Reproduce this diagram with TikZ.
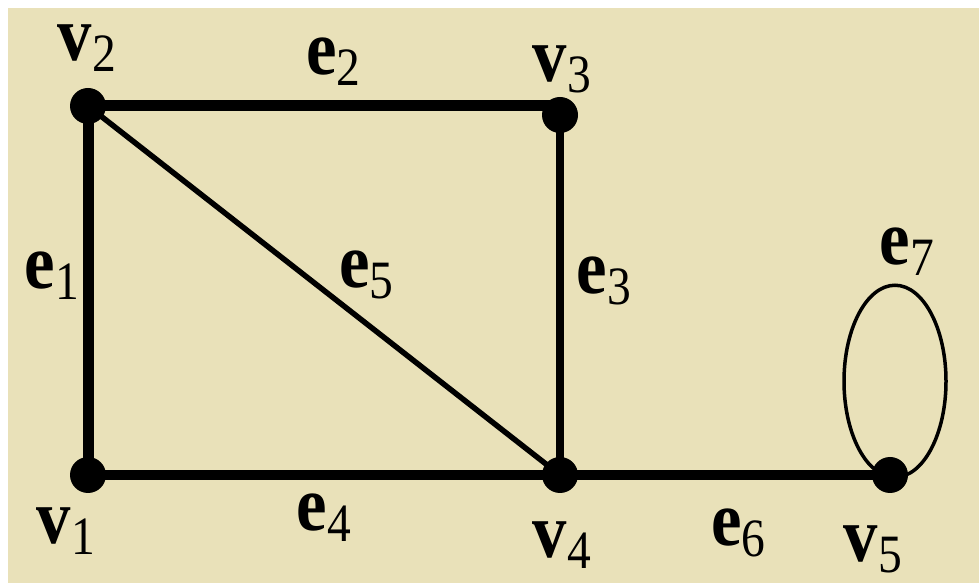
\documentclass[tikz,border=0pt]{standalone}
\usepackage{fontspec}
\setmainfont{Liberation Serif}
\usepackage{graphicx}
\usepackage{tikz}
\usetikzlibrary{positioning,calc,shapes.geometric}
\definecolor{bg}{HTML}{E9E1B9}
\newcommand{\Lb}[2]{\scalebox{.88}[1]{\textbf{#1}\raisebox{-11pt}{\fontsize{54}{60}\selectfont #2}}}
\tikzset{
  vtx/.style={circle, fill=black, inner sep=0pt, minimum size=36pt},
  lbl/.style={font=\fontsize{78}{94}\selectfont, inner sep=0pt},
}

\begin{document}
\begin{tikzpicture}[x=1pt,y=1pt]
  % backdrop
  \useasboundingbox (0,0) rectangle (979,583);
  \fill[white] (0,0) rectangle (979,583);
  \fill[bg] (8,0) rectangle (979,575);

  % vertices
  \node[vtx] (v1) at (88,108) {};
  \node[vtx] (v2) at (88,477) {};
  \node[vtx] (v3) at (560,468) {};
  \node[vtx] (v4) at (560,108) {};
  \node[vtx] (v5) at (890,108) {};

  % edges
  \draw[line width=11pt] (v1.center) -- node[lbl, pos=.54, xshift=-36pt] (e1) {\Lb{e}{1}} (v2.center);
  \draw[line width=11pt] (v2.center) -- node[lbl, pos=.52, yshift=44pt] (e2) {\Lb{e}{2}} (v2.center -| v3.center);
  \draw[line width=8pt] (v3.center) -- node[lbl, pos=.46, xshift=44pt] (e3) {\Lb{e}{3}} (v4.center);
  \draw[line width=10pt] (v1.center) -- node[lbl, pos=.5, yshift=-43pt] (e4) {\Lb{e}{4}} (v4.center);
  \draw[line width=5.5pt] (v2.center) -- node[lbl, pos=.59, yshift=49pt] (e5) {\Lb{e}{5}} (v4.center);
  \draw[line width=10pt] (v4.center) -- node[lbl, pos=.54, yshift=-58pt] (e6) {\Lb{e}{6}} (v5.center);

  % self loop at v5
  \node[draw, ellipse, line width=3.5pt, inner sep=0pt, minimum width=102pt,
    minimum height=192pt, anchor=south, xshift=5pt, yshift=-4pt] (loop) at (v5.center) {};
  \node[lbl, xshift=12pt, yshift=32pt] (e7) at (loop.north) {\Lb{e}{7}};

  % vertex names
  \node[lbl, xshift=-22pt, yshift=-56pt] (lv1) at (v1) {\Lb{v}{1}};
  \node[lbl, xshift=-1pt, yshift=58pt] (lv2) at (v2) {\Lb{v}{2}};
  \node[lbl, xshift=2pt, yshift=46pt] (lv3) at (v3) {\Lb{v}{3}};
  \node[lbl, xshift=2pt, yshift=-70pt] (lv4) at (v4) {\Lb{v}{4}};
  \node[lbl, xshift=-17pt, yshift=-74pt] (lv5) at (v5) {\Lb{v}{5}};
\end{tikzpicture}
\end{document}
